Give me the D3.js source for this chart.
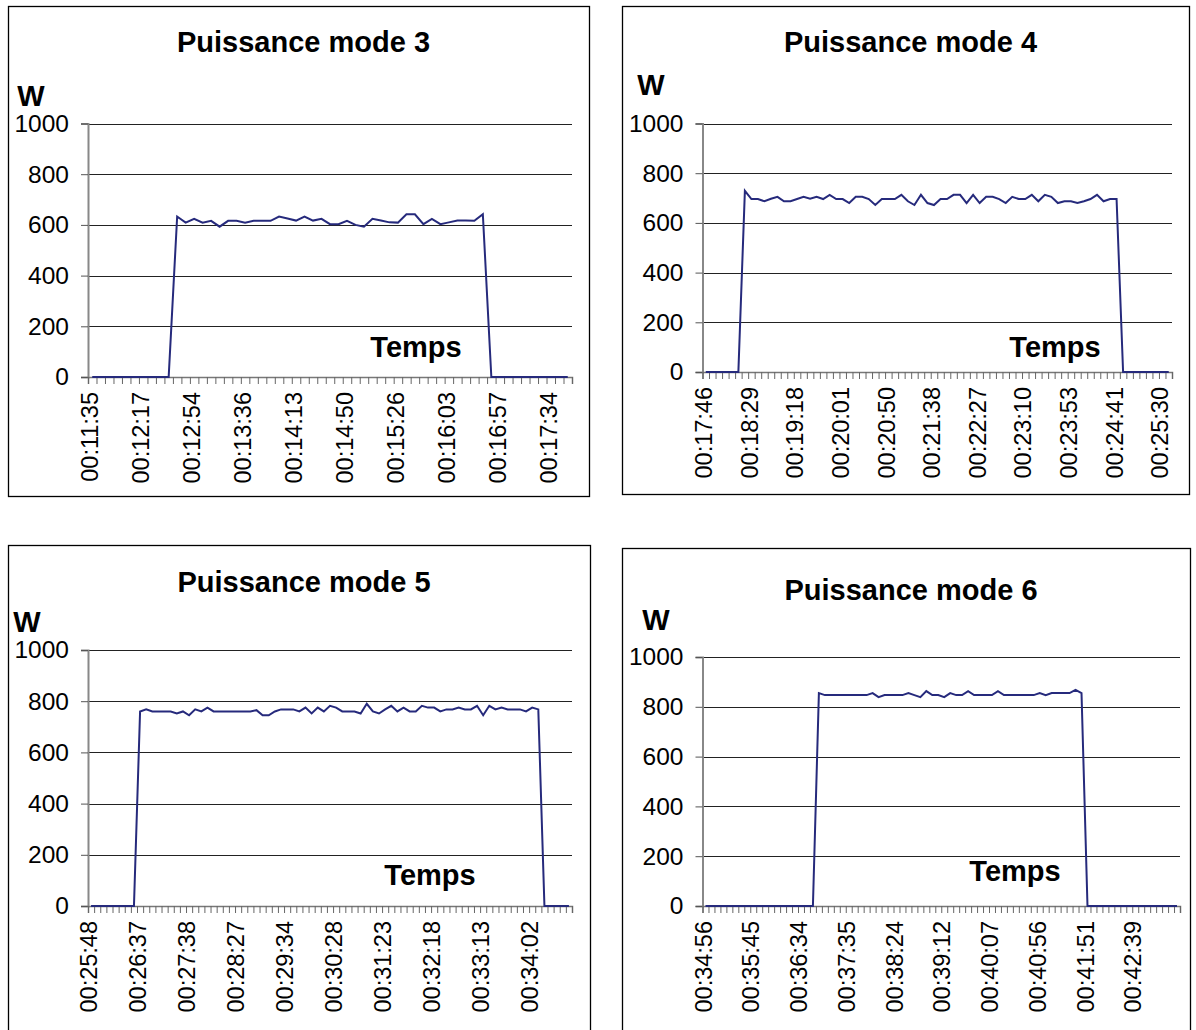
<!DOCTYPE html>
<html><head><meta charset="utf-8">
<script src="https://cdn.jsdelivr.net/npm/d3@7"></script>
<style>
html,body{margin:0;padding:0;background:#fff;}
svg{display:block;font-family:Arial,"Liberation Sans",sans-serif;}
</style></head>
<body><svg id="c" width="1196" height="1030"></svg>
<script>
// ---------- DATA ----------
const yTicks = [0, 200, 400, 600, 800, 1000];

const titles = ["Puissance mode 3", "Puissance mode 4", "Puissance mode 5", "Puissance mode 6"];

const labelsMode3 = ["00:11:35","00:12:17","00:12:54","00:13:36","00:14:13","00:14:50","00:15:26","00:16:03","00:16:57","00:17:34"];
const labelsMode4 = ["00:17:46","00:18:29","00:19:18","00:20:01","00:20:50","00:21:38","00:22:27","00:23:10","00:23:53","00:24:41","00:25:30"];
const labelsMode5 = ["00:25:48","00:26:37","00:27:38","00:28:27","00:29:34","00:30:28","00:31:23","00:32:18","00:33:13","00:34:02"];
const labelsMode6 = ["00:34:56","00:35:45","00:36:34","00:37:35","00:38:24","00:39:12","00:40:07","00:40:56","00:41:51","00:42:39"];

const labelEvery = [6, 7, 8, 8];

const powerMode3 = [0,0,0,0,0,0,0,0,0,0,
  633,609,624,609,616,593,616,616,609,616,616,616,633,625,617,633,617,624,603,603,
  616,600,593,624,617,610,609,642,642,603,624,603,610,617,617,616,642,
  0,0,0,0,0,0,0,0,0,0];

const powerMode4 = [0,0,0,0,0,0,
  729,696,696,687,697,705,687,687,696,705,697,705,696,713,696,696,680,705,705,696,
  672,696,696,696,713,687,672,713,680,672,696,696,713,713,680,713,680,705,705,696,
  680,705,696,696,713,687,713,705,680,687,687,680,687,696,713,687,696,696,
  0,0,0,0,0,0,0,0];

const powerMode5 = [0,0,0,0,0,0,0,0,
  760,768,760,760,760,760,752,760,745,768,760,775,760,760,760,760,760,760,760,765,
  745,745,760,768,768,768,760,775,752,775,760,782,775,760,760,760,752,790,760,752,
  768,782,760,775,760,760,782,775,775,760,768,768,775,768,768,782,745,782,768,775,
  768,768,768,760,775,768,
  0,0,0,0,0];

const powerMode6 = [0,0,0,0,0,0,0,0,0,0,0,0,0,0,0,0,0,0,0,
  855,847,847,847,847,847,847,847,847,855,839,847,847,847,847,855,847,839,863,847,
  847,839,855,847,847,863,847,847,847,847,863,847,847,847,847,847,847,855,847,855,
  855,855,855,868,855,
  0,0,0,0,0,0,0,0,0,0,0,0,0,0,0,0];

// ---------- LAYOUT ----------
const panels = [
  {title: titles[0], values: powerMode3, labels: labelsMode3, every: labelEvery[0],
   box: [8, 6, 589, 496], x0: 88, x1: 572, yTop: 123.5, yZero: 377,
   titleY: 52, wPos: [31, 106], tempsPos: [416, 357]},
  {title: titles[1], values: powerMode4, labels: labelsMode4, every: labelEvery[1],
   box: [622, 6, 1189, 494], x0: 702.5, x1: 1172, yTop: 123.5, yZero: 372,
   titleY: 52, wPos: [651, 95], tempsPos: [1055, 357]},
  {title: titles[2], values: powerMode5, labels: labelsMode5, every: labelEvery[2],
   box: [8, 545, 590, 1040], x0: 88, x1: 572, yTop: 650, yZero: 906,
   titleY: 592, wPos: [27, 632], tempsPos: [430, 885]},
  {title: titles[3], values: powerMode6, labels: labelsMode6, every: labelEvery[3],
   box: [622, 548, 1190, 1040], x0: 702.5, x1: 1180, yTop: 657, yZero: 906,
   titleY: 600, wPos: [656, 630], tempsPos: [1015, 881]}
];

const svg = d3.select("#c");
const lineColor = "#262a7c";

panels.forEach(p => {
  const g = svg.append("g");
  const [bx0, by0, bx1, by1] = p.box;
  g.append("rect").attr("x", bx0 + 0.5).attr("y", by0 + 0.5)
    .attr("width", bx1 - bx0).attr("height", by1 - by0)
    .attr("fill", "#fff").attr("stroke", "#000").attr("stroke-width", 1.3);

  const n = p.values.length;
  const x = d3.scaleBand().domain(d3.range(n)).range([p.x0, p.x1]).paddingInner(0).paddingOuter(0);
  const xEdge = d3.scaleLinear().domain([0, n]).range([p.x0, p.x1]);
  const y = d3.scaleLinear().domain([0, 1000]).range([p.yZero, p.yTop]);

  // gridlines
  g.append("g").selectAll("line").data(yTicks.filter(v => v > 0)).join("line")
    .attr("x1", p.x0).attr("x2", p.x1)
    .attr("y1", d => Math.round(y(d)) + 0.5).attr("y2", d => Math.round(y(d)) + 0.5)
    .attr("stroke", "#222").attr("stroke-width", 1);

  // y axis
  const ya = g.append("g").attr("transform", `translate(${p.x0},0)`)
    .call(d3.axisLeft(y).tickValues(yTicks).tickSize(7).tickPadding(12).tickFormat(d3.format("d")));
  ya.select(".domain").attr("stroke", "#888").attr("stroke-width", 2);
  ya.selectAll(".tick line").attr("stroke", "#555");
  ya.selectAll(".tick text").attr("font-size", 24.5).attr("fill", "#000")
    .attr("font-family", "Arial, 'Liberation Sans', sans-serif");

  // x axis (ticks at category boundaries)
  const xa = g.append("g").attr("transform", `translate(0,${p.yZero})`)
    .call(d3.axisBottom(xEdge).tickValues(d3.range(0, n + 1)).tickSize(7).tickFormat(""));
  xa.select(".domain").attr("stroke", "#777").attr("stroke-width", 1.5);
  xa.selectAll(".tick line").attr("stroke", "#666");

  // x labels
  const labIdx = p.labels.map((l, i) => ({l, i: i * p.every}));
  g.append("g").selectAll("text").data(labIdx).join("text")
    .attr("transform", d => `translate(${x(d.i) + x.bandwidth() / 2},${p.yZero + 15}) rotate(-90)`)
    .attr("text-anchor", "end").attr("dominant-baseline", "middle")
    .attr("font-size", 23.5).attr("fill", "#000").text(d => d.l);

  // line
  const line = d3.line().x((d, i) => x(i) + x.bandwidth() / 2).y(d => y(d));
  g.append("path").datum(p.values).attr("d", line)
    .attr("fill", "none").attr("stroke", lineColor).attr("stroke-width", 2)
    .attr("stroke-linejoin", "miter");

  // title and labels
  g.append("text").attr("x", (bx0 + bx1) / 2 + 5).attr("y", p.titleY)
    .attr("text-anchor", "middle").attr("font-weight", "bold").attr("font-size", 29)
    .text(p.title);
  g.append("text").attr("x", p.wPos[0]).attr("y", p.wPos[1])
    .attr("text-anchor", "middle").attr("font-weight", "bold").attr("font-size", 29).text("W");
  g.append("text").attr("x", p.tempsPos[0]).attr("y", p.tempsPos[1])
    .attr("text-anchor", "middle").attr("font-weight", "bold").attr("font-size", 29).text("Temps");
});
</script></body></html>
